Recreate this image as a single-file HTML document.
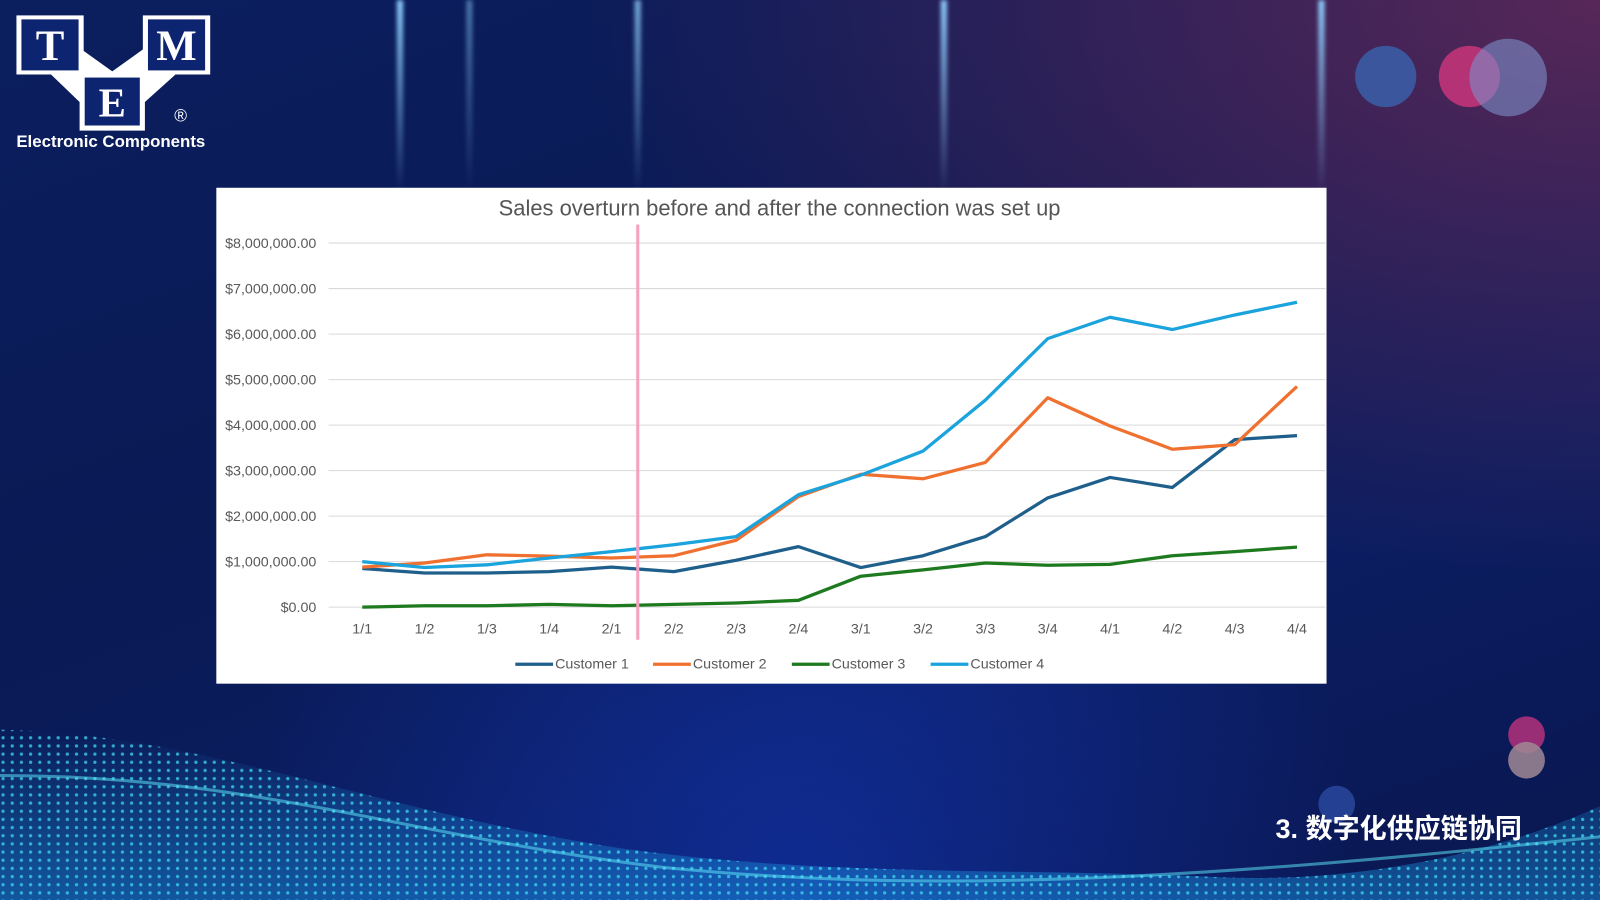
<!DOCTYPE html>
<html><head><meta charset="utf-8"><style>
html,body{margin:0;padding:0;width:1600px;height:900px;overflow:hidden;background:#0a1850}
#w{position:absolute;left:0;top:0;width:1568px;height:882px;transform:scale(1.020408);transform-origin:0 0;
background:linear-gradient(160deg,#0b1e5e 0%,#0a1a55 40%,#0b1d60 70%,#0a1650 100%);overflow:hidden;font-family:"Liberation Sans",sans-serif}
.glow{position:absolute;top:0;width:6px;height:190px;background:linear-gradient(#8fd0ff,rgba(60,140,255,0));filter:blur(2px)}
.c{position:absolute;border-radius:50%}
</style></head><body><div id="w">
<div style="position:absolute;inset:0;background:radial-gradient(ellipse at 100% 0%,rgba(150,50,90,.55),rgba(0,0,0,0) 45%)"></div>
<div style="position:absolute;inset:0;background:radial-gradient(ellipse at 50% 100%,rgba(20,60,200,.5),rgba(0,0,0,0) 50%)"></div>
<div class="glow" style="left:389px"></div><div class="glow" style="left:457px;opacity:.5"></div>
<div class="glow" style="left:622px;opacity:.8"></div><div class="glow" style="left:922px"></div><div class="glow" style="left:1292px"></div>
<div class="c" style="left:1328px;top:45px;width:60px;height:60px;background:#3a5fa8;opacity:.85"></div>
<div class="c" style="left:1410px;top:45px;width:60px;height:60px;background:#c8357a;opacity:.85"></div>
<div class="c" style="left:1440px;top:38px;width:76px;height:76px;background:#7d8fc8;opacity:.6"></div>
<div class="c" style="left:1478px;top:702px;width:36px;height:36px;background:#a8307a;opacity:.9"></div>
<div class="c" style="left:1478px;top:727px;width:36px;height:36px;background:#a08a95;opacity:.85"></div>
<div class="c" style="left:1292px;top:770px;width:36px;height:36px;background:#2a4aa0;opacity:.8"></div>
<svg style="position:absolute;left:0;top:0" width="1568" height="882">
<defs><pattern id="d" width="9" height="8" patternUnits="userSpaceOnUse"><circle cx="3" cy="3" r="1.6" fill="#3fd8f0"/></pattern>
<linearGradient id="g" x1="0" x2="0" y1="0" y2="1"><stop offset="0" stop-color="#1aa0e0" stop-opacity=".0"/><stop offset="1" stop-color="#1a90e0" stop-opacity=".5"/></linearGradient></defs>
<path d="M0,715 C200,720 350,790 600,830 C800,860 1000,850 1200,860 C1350,865 1480,830 1568,790 L1568,882 L0,882Z" fill="url(#g)"/>
<path d="M0,715 C200,720 350,790 600,830 C800,860 1000,850 1200,860 C1350,865 1480,830 1568,790 L1568,882 L0,882Z" fill="url(#d)" opacity=".75"/>
<path d="M0,760 C250,760 400,820 650,850 C900,875 1150,865 1568,820" stroke="#5ff0ff" stroke-width="3" fill="none" opacity=".5"/>
</svg>
<!-- logo -->
<div style="position:absolute;left:16px;top:15px;width:192px;height:115px">
<svg width="192" height="115">
<polygon points="34,58 62,32 94,55 126,32 156,58 126,85 62,85" fill="#fff"/>
<rect x="0" y="0" width="66" height="58" fill="#fff"/><rect x="124" y="0" width="66" height="58" fill="#fff"/>
<rect x="62" y="55" width="64" height="58" fill="#fff"/>
<rect x="5" y="4" width="56" height="50" fill="#0d2470"/><rect x="129" y="4" width="56" height="50" fill="#0d2470"/>
<rect x="67" y="61" width="54" height="47" fill="#0d2470"/>
<text x="33" y="44" font-family="Liberation Serif" font-weight="bold" font-size="42" fill="#fff" text-anchor="middle">T</text>
<text x="157" y="44" font-family="Liberation Serif" font-weight="bold" font-size="42" fill="#fff" text-anchor="middle">M</text>
<text x="94" y="99" font-family="Liberation Serif" font-weight="bold" font-size="40" fill="#fff" text-anchor="middle">E</text>
<text x="161" y="104" font-size="17" fill="#fff" text-anchor="middle">®</text></svg></div>
<div style="position:absolute;left:16px;top:130px;color:#fff;font-weight:bold;font-size:16.5px">Electronic Components</div>
<div style="position:absolute;left:1250px;top:790px;color:#fff;font-weight:bold;font-size:26.5px;font-family:'Liberation Sans','Noto Sans CJK SC',sans-serif">3. 数字化供应链协同</div>
<svg id="ch" style="position:absolute;left:212px;top:184px;background:#fff" width="1088" height="486"></svg>
</div>
<script>
var s=document.getElementById('ch'),ox=212,oy=184,h='';
h+='<text x="552" y="27" text-anchor="middle" font-size="21.5" fill="#555" font-family="Liberation Sans">Sales overturn before and after the connection was set up</text>';
for(var i=0;i<=8;i++){var y=595-i*44.6-oy;h+='<line x1="110" x2="1087" y1="'+y+'" y2="'+y+'" stroke="#d9d9d9"/>';
h+='<text x="98" y="'+(y+5)+'" text-anchor="end" font-size="14" fill="#595959" font-family="Liberation Sans">$'+(i?i+',000,000.00':'0.00')+'</text>';}
var L=['1/1','1/2','1/3','1/4','2/1','2/2','2/3','2/4','3/1','3/2','3/3','3/4','4/1','4/2','4/3','4/4'];
function X(k){return 355+k*61.07-ox}
L.forEach(function(l,k){h+='<text x="'+X(k)+'" y="'+(621-oy)+'" text-anchor="middle" font-size="14" fill="#595959" font-family="Liberation Sans">'+l+'</text>'});
var D=[[0.85,0.75,0.75,0.78,0.88,0.78,1.03,1.33,0.87,1.13,1.55,2.4,2.85,2.63,3.68,3.77],
[0.88,0.97,1.15,1.12,1.08,1.13,1.47,2.43,2.92,2.82,3.18,4.6,3.98,3.47,3.57,4.85],
[0,0.03,0.03,0.06,0.03,0.06,0.09,0.15,0.68,0.82,0.97,0.92,0.94,1.13,1.22,1.32],
[1.0,0.87,0.93,1.08,1.22,1.37,1.55,2.47,2.9,3.43,4.55,5.9,6.37,6.1,6.42,6.7]];
var C=['#1f5f8b','#f07030','#1e7a1e','#1aa3dc'];
D.forEach(function(d,j){h+='<polyline fill="none" stroke="'+C[j]+'" stroke-width="3.2" stroke-linejoin="round" points="'+d.map(function(v,k){return X(k)+','+(595-v*44.6-oy)}).join(' ')+'"/>'});
h+='<line x1="413" x2="413" y1="36" y2="443" stroke="#f7a0c0" stroke-width="3"/>';
var lx=[293,428,564,700];
lx.forEach(function(x,j){h+='<line x1="'+x+'" x2="'+(x+37)+'" y1="467" y2="467" stroke="'+C[j]+'" stroke-width="3.2"/><text x="'+(x+39)+'" y="471" font-size="14" fill="#595959" font-family="Liberation Sans">Customer '+(j+1)+'</text>'});
s.innerHTML=h;
</script>
</body></html>
